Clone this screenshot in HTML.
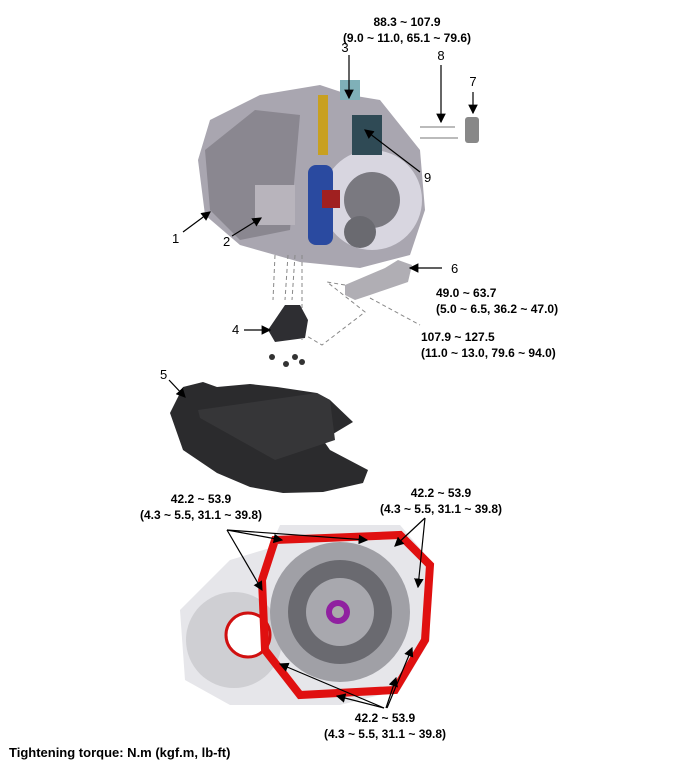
<!DOCTYPE html>
<html><head><style>
body{margin:0;background:#fff;}
svg{display:block;font-family:"Liberation Sans",Arial,sans-serif;font-weight:bold;}
</style></head><body>
<svg width="699" height="770" viewBox="0 0 699 770" xmlns="http://www.w3.org/2000/svg">
<defs>
<marker id="a" markerWidth="8" markerHeight="8" refX="7" refY="4" orient="auto"><path d="M0,0 L8,4 L0,8 z" fill="#000"/></marker>
</defs>
<!-- transmission -->
<path d="M210,120 L260,95 L320,85 L350,95 L380,100 L420,150 L425,210 L410,255 L360,268 L300,262 L240,245 L205,215 L198,160 Z" fill="#a9a6b0"/>
<path d="M205,150 L255,110 L300,115 L290,230 L240,240 L210,210 Z" fill="#8a8790"/>
<circle cx="372" cy="200" r="50" fill="#d8d6e0"/>
<circle cx="372" cy="200" r="28" fill="#7a7980"/>
<circle cx="360" cy="232" r="16" fill="#6a6a70"/>
<rect x="308" y="165" width="25" height="80" rx="8" fill="#2a4aa0"/>
<rect x="318" y="95" width="10" height="60" fill="#c8a020"/>
<rect x="352" y="115" width="30" height="40" fill="#2f4a55"/>
<rect x="255" y="185" width="40" height="40" fill="#b8b4bc"/>
<rect x="322" y="190" width="18" height="18" fill="#a02020"/>
<rect x="340" y="80" width="20" height="20" fill="#7fb0b8"/>
<!-- bolts 8, nut 7 -->
<line x1="420" y1="127" x2="455" y2="127" stroke="#bbb" stroke-width="2"/>
<line x1="420" y1="138" x2="458" y2="138" stroke="#bbb" stroke-width="2"/>
<rect x="465" y="117" width="14" height="26" rx="3" fill="#888"/>
<!-- mount 6 -->
<path d="M345,285 L385,268 L398,260 L412,265 L408,282 L370,295 L355,300 L345,295 Z" fill="#b0aeb4"/>
<!-- dashed -->
<g stroke="#888" stroke-width="1" stroke-dasharray="4,3" fill="none">
<line x1="275" y1="255" x2="273" y2="300"/><line x1="288" y1="255" x2="285" y2="300"/>
<line x1="295" y1="255" x2="292" y2="300"/><line x1="302" y1="255" x2="302" y2="340"/>
<path d="M345,285 L327,282 L365,312 L322,345 L305,335"/><path d="M370,298 L420,325"/>
</g>
<!-- mount 4 -->
<path d="M268,330 L285,305 L300,305 L308,320 L305,338 L275,342 Z" fill="#2e2e32"/>
<circle cx="272" cy="357" r="3" fill="#333"/><circle cx="286" cy="364" r="3" fill="#333"/><circle cx="295" cy="357" r="3" fill="#333"/><circle cx="302" cy="362" r="3" fill="#333"/>
<!-- undercover 5 -->
<path d="M183,387 L203,382 L217,387 L250,384 L277,387 L317,393 L330,400 L353,422 L323,440 L330,450 L368,470 L363,483 L323,492 L283,493 L250,487 L217,473 L183,450 L170,413 Z" fill="#2b2b2d"/>
<path d="M198,410 L317,393 L330,400 L335,440 L275,460 L200,418 Z" fill="#363638"/>
<!-- bottom housing -->
<path d="M180,610 L230,560 L270,548 L280,525 L400,525 L430,560 L430,640 L400,690 L340,705 L230,705 L185,680 Z" fill="#e6e6ea"/>
<circle cx="234" cy="640" r="48" fill="#cfcfd3"/>
<circle cx="248" cy="635" r="22" fill="#fff" stroke="#d01010" stroke-width="3"/>
<path d="M275,540 L400,535 L430,565 L425,640 L395,690 L300,695 L265,650 L262,580 Z" fill="none" stroke="#e01010" stroke-width="8"/>
<circle cx="340" cy="612" r="70" fill="#a0a0a6"/>
<circle cx="340" cy="612" r="52" fill="#6a6a70"/>
<circle cx="340" cy="612" r="34" fill="#a8a8ae"/>
<circle cx="338" cy="612" r="12" fill="#9020a0"/>
<circle cx="338" cy="612" r="6" fill="#aaa"/>
<!-- leaders -->
<g stroke="#000" stroke-width="1.2" fill="none" marker-end="url(#a)">
<line x1="349" y1="55" x2="349" y2="98"/>
<line x1="441" y1="65" x2="441" y2="122"/>
<line x1="473" y1="92" x2="473" y2="113"/>
<line x1="420" y1="172" x2="365" y2="130"/>
<line x1="183" y1="232" x2="210" y2="212"/>
<line x1="232" y1="236" x2="261" y2="218"/>
<line x1="442" y1="268" x2="410" y2="268"/>
<line x1="244" y1="330" x2="270" y2="330"/>
<line x1="169" y1="380" x2="185" y2="397"/>
<line x1="227" y1="530" x2="282" y2="540"/>
<line x1="227" y1="530" x2="367" y2="540"/>
<line x1="227" y1="530" x2="262" y2="590"/>
<line x1="425" y1="518" x2="395" y2="546"/>
<line x1="425" y1="518" x2="418" y2="587"/>
<line x1="384" y1="708" x2="280" y2="664"/>
<line x1="384" y1="708" x2="337" y2="696"/>
<line x1="386" y1="708" x2="396" y2="678"/>
<line x1="387" y1="708" x2="412" y2="648"/>
</g>
<g font-size="12" fill="#000">
<text x="407" y="26" text-anchor="middle">88.3 ~ 107.9</text>
<text x="407" y="42" text-anchor="middle">(9.0 ~ 11.0, 65.1 ~ 79.6)</text>
<text x="345" y="52" text-anchor="middle" font-weight="normal" font-size="13">3</text>
<text x="441" y="60" text-anchor="middle" font-weight="normal" font-size="13">8</text>
<text x="473" y="86" text-anchor="middle" font-weight="normal" font-size="13">7</text>
<text x="424" y="182" font-weight="normal" font-size="13">9</text>
<text x="172" y="243" font-weight="normal" font-size="13">1</text>
<text x="223" y="246" font-weight="normal" font-size="13">2</text>
<text x="451" y="273" font-weight="normal" font-size="13">6</text>
<text x="436" y="297">49.0 ~ 63.7</text>
<text x="436" y="313">(5.0 ~ 6.5, 36.2 ~ 47.0)</text>
<text x="421" y="341">107.9 ~ 127.5</text>
<text x="421" y="357">(11.0 ~ 13.0, 79.6 ~ 94.0)</text>
<text x="232" y="334" font-weight="normal" font-size="13">4</text>
<text x="160" y="379" font-weight="normal" font-size="13">5</text>
<text x="201" y="503" text-anchor="middle">42.2 ~ 53.9</text>
<text x="201" y="519" text-anchor="middle">(4.3 ~ 5.5, 31.1 ~ 39.8)</text>
<text x="441" y="497" text-anchor="middle">42.2 ~ 53.9</text>
<text x="441" y="513" text-anchor="middle">(4.3 ~ 5.5, 31.1 ~ 39.8)</text>
<text x="385" y="722" text-anchor="middle">42.2 ~ 53.9</text>
<text x="385" y="738" text-anchor="middle">(4.3 ~ 5.5, 31.1 ~ 39.8)</text>
<text x="9" y="757" font-size="13">Tightening torque: N.m (kgf.m, lb-ft)</text>
</g>
</svg>
</body></html>
